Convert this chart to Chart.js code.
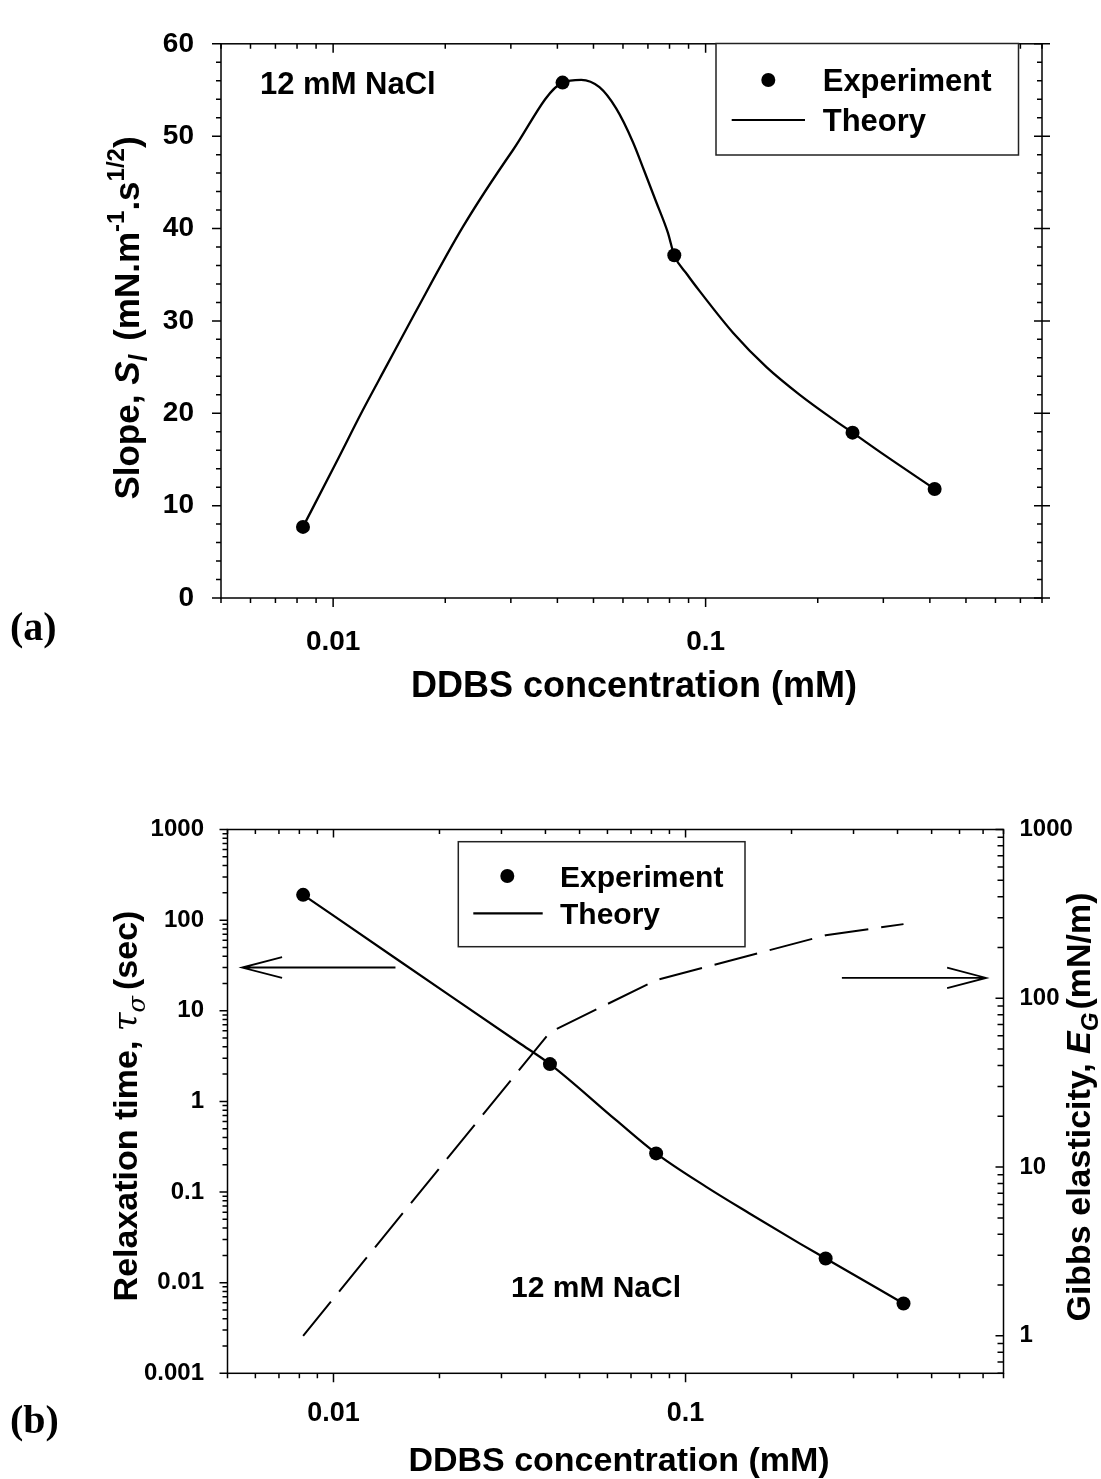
<!DOCTYPE html>
<html>
<head>
<meta charset="utf-8">
<script src="https://cdn.jsdelivr.net/npm/chart.js@4/dist/chart.umd.min.js"></script>
<style>
  html, body { margin: 0; padding: 0; background: #fff; }
  #wrap { position: relative; width: 1101px; height: 1479px; }
  canvas { position: absolute; left: 0; }
  #cA { top: 0; }
  #cB { top: 740px; }
</style>
</head>
<body>
<div id="wrap">
  <canvas id="cA" width="1101" height="740"></canvas>
  <canvas id="cB" width="1101" height="739"></canvas>
</div>
<script>
// ---------- Panel (a): limiting slope vs DDBS concentration ----------
const concA = [0.0083, 0.0413, 0.0824, 0.248, 0.412];
const slopeExp = [7.7, 55.8, 37.1, 17.9, 11.8];
const slopeTheoryConc = [0.0083, 0.0102, 0.0120, 0.0139, 0.01656, 0.02232, 0.0304, 0.0413, 0.04634,
                         0.05188, 0.05752, 0.06374, 0.06849, 0.07364, 0.07911, 0.0824, 0.08933,
                         0.0965, 0.1186, 0.1457, 0.179, 0.2246, 0.248, 0.299, 0.412];
const slopeTheory = [7.7, 14.7, 20.3, 25.1, 30.8, 40.2, 48.5, 55.8, 56.1,
                     55.3, 53.0, 49.4, 46.2, 42.9, 39.6, 37.1, 35.0,
                     33.2, 28.7, 25.0, 22.0, 19.1, 17.9, 15.6, 11.8];

// ---------- Panel (b): relaxation time and Gibbs elasticity ----------
const concB = [0.0082, 0.0412, 0.0825, 0.25, 0.416];
const tauExp = [190, 2.58, 0.267, 0.0185, 0.0059];
const tauTheoryConc = [0.0082, 0.015, 0.0337, 0.0412, 0.0635, 0.0825, 0.1145, 0.152, 0.2113, 0.25, 0.416];
const tauTheory = [190, 38.0, 4.41, 2.58, 0.62, 0.267, 0.114, 0.058, 0.027, 0.0185, 0.0059];
const gibbsConc = [0.0082, 0.0412, 0.0825, 0.25, 0.416];
const gibbsTheory = [1.0, 63, 128, 236, 275];

// ---------- Tick labels ----------
const concTicks = [0.01, 0.1];
const concTickLabels = ['0.01', '0.1'];
const slopeTicks = [0, 10, 20, 30, 40, 50, 60];
const slopeTickLabels = ['0', '10', '20', '30', '40', '50', '60'];
const tauTicks = [0.001, 0.01, 0.1, 1, 10, 100, 1000];
const tauTickLabels = ['0.001', '0.01', '0.1', '1', '10', '100', '1000'];
const gibbsTicks = [1, 10, 100, 1000];
const gibbsTickLabels = ['1', '10', '100', '1000'];

const SANS = "'Liberation Sans', Arial, Helvetica, sans-serif";
const SERIF = "'Liberation Serif', 'Times New Roman', serif";
const GREEK = "'DejaVu Serif', 'Liberation Serif', serif";
const INK = '#000';

const pts = (xs, ys) => xs.map((x, i) => ({ x: x, y: ys[i] }));

// minor tick positions 2..9 per decade on a log axis
function logMinors(min, max) {
  const out = [];
  for (let e = Math.floor(Math.log10(min)) - 1; e <= Math.ceil(Math.log10(max)); e++) {
    for (let m = 2; m <= 9; m++) {
      const v = m * Math.pow(10, e);
      if (v >= min * 0.9999 && v <= max * 1.0001) out.push(v);
    }
  }
  return out;
}
function linMinors(min, max, step, majorStep) {
  const out = [];
  for (let v = min; v <= max + 1e-9; v += step) {
    if (Math.abs(v / majorStep - Math.round(v / majorStep)) > 1e-6) out.push(v);
  }
  return out;
}

// short strokes perpendicular to an axis
function marks(ctx, pos, pixels, from, to, alongX) {
  ctx.beginPath();
  pixels.forEach(p => {
    if (alongX) { ctx.moveTo(p, pos + from); ctx.lineTo(p, pos + to); }
    else { ctx.moveTo(pos + from, p); ctx.lineTo(pos + to, p); }
  });
  ctx.stroke();
}

// text made of runs with their own font and baseline shift
function richText(ctx, x, y, runs, vertical) {
  ctx.save();
  ctx.translate(x, y);
  if (vertical) ctx.rotate(-Math.PI / 2);
  ctx.textAlign = 'left';
  ctx.textBaseline = 'alphabetic';
  ctx.fillStyle = INK;
  let total = 0;
  runs.forEach(r => { ctx.font = r.font; r.w = ctx.measureText(r.text).width + (r.gap || 0); total += r.w; });
  let cx = -total / 2;
  runs.forEach(r => { ctx.font = r.font; ctx.fillText(r.text, cx, r.dy || 0); cx += r.w; });
  ctx.restore();
}

function arrow(ctx, x0, y0, x1, y1, headLen, headHalf) {
  const dir = Math.sign(x1 - x0);
  ctx.beginPath();
  ctx.moveTo(x0, y0); ctx.lineTo(x1, y1);
  ctx.moveTo(x1 - dir * headLen, y1 - headHalf); ctx.lineTo(x1, y1);
  ctx.lineTo(x1 - dir * headLen, y1 + headHalf);
  ctx.stroke();
}

function legendBox(ctx, box, chart, font) {
  ctx.save();
  ctx.fillStyle = '#fff';
  ctx.fillRect(box.x, box.y, box.w, box.h);
  ctx.strokeStyle = '#222';
  ctx.lineWidth = 1.5;
  ctx.strokeRect(box.x, box.y, box.w, box.h);
  const ds = chart.data.datasets;
  ctx.fillStyle = INK;
  ctx.beginPath();
  ctx.arc(box.dotX, box.row1, 7, 0, Math.PI * 2);
  ctx.fill();
  ctx.strokeStyle = INK;
  ctx.lineWidth = 2.2;
  ctx.beginPath();
  ctx.moveTo(box.lineX0, box.row2); ctx.lineTo(box.lineX1, box.row2);
  ctx.stroke();
  ctx.font = font;
  ctx.textAlign = 'left';
  ctx.textBaseline = 'alphabetic';
  ctx.fillText(ds[0].label, box.textX, box.row1 + box.base);
  ctx.fillText(ds[1].label, box.textX, box.row2 + box.base);
  ctx.restore();
}

const tickFont = size => ({ family: SANS, size: size, weight: 'bold' });

// ---------- Decorations for panel (a) ----------
const decorA = {
  id: 'decorA',
  afterDraw(chart) {
    const { ctx, chartArea: a, scales: { x, y } } = chart;
    ctx.save();
    ctx.strokeStyle = INK;
    ctx.lineWidth = 1.5;
    ctx.strokeRect(a.left, a.top, a.right - a.left, a.bottom - a.top);

    const xMaj = concTicks.map(v => x.getPixelForValue(v));
    const xMin = logMinors(0.005, 0.8).map(v => x.getPixelForValue(v));
    marks(ctx, a.bottom, xMaj, 0, 9, true);
    marks(ctx, a.bottom, xMin, 0, 5, true);
    marks(ctx, a.top, xMaj, 0, 9, true);
    marks(ctx, a.top, xMin, 0, 5, true);

    const yMaj = slopeTicks.map(v => y.getPixelForValue(v));
    const yMin = linMinors(0, 60, 2, 10).map(v => y.getPixelForValue(v));
    marks(ctx, a.left, yMaj, -9, 0, false);
    marks(ctx, a.left, yMin, -5, 0, false);
    marks(ctx, a.right, yMaj, -8, 8, false);
    marks(ctx, a.right, yMin, -5, 0, false);
    ctx.restore();

    legendBox(ctx, { x: 716, y: 43.5, w: 302.5, h: 111.5, dotX: 768.3, row1: 80, row2: 120,
                     lineX0: 731.7, lineX1: 805, textX: 822.7, base: 11 },
              chart, 'bold 31px ' + SANS);

    ctx.save();
    ctx.fillStyle = INK;
    ctx.textAlign = 'left';
    ctx.textBaseline = 'alphabetic';
    ctx.font = 'bold 31px ' + SANS;
    ctx.fillText('12 mM NaCl', 260, 94);
    ctx.font = 'bold 36px ' + SANS;
    ctx.textAlign = 'center';
    ctx.fillText('DDBS concentration (mM)', 634, 697);
    ctx.font = 'bold 40px ' + SERIF;
    ctx.textAlign = 'left';
    ctx.fillText('(a)', 10, 640);
    ctx.restore();

    const big = 'bold 35px ' + SANS, small = 'bold 24px ' + SANS;
    richText(ctx, 139, 318, [
      { text: 'Slope, ', font: big },
      { text: 'S', font: 'italic bold 35px ' + SANS },
      { text: 'l', font: 'italic bold 25px ' + SANS, dy: 8, gap: 4 },
      { text: ' (mN.m', font: big },
      { text: '-1', font: small, dy: -15 },
      { text: '.s', font: big },
      { text: '1/2', font: small, dy: -15 },
      { text: ')', font: big }
    ], true);
  }
};

// ---------- Decorations for panel (b) ----------
const tauArrow = { from: 0.015, to: 0.0055, tau: 30 };
const gibbsArrow = { from: 0.278, to: 0.714, gibbs: 132 };

const decorB = {
  id: 'decorB',
  afterDraw(chart) {
    const { ctx, chartArea: a, scales: { x, y, y2 } } = chart;
    ctx.save();
    ctx.strokeStyle = INK;
    ctx.lineWidth = 1.5;
    ctx.strokeRect(a.left, a.top, a.right - a.left, a.bottom - a.top);

    const xMaj = concTicks.map(v => x.getPixelForValue(v));
    const xMin = logMinors(0.005, 0.8).map(v => x.getPixelForValue(v));
    marks(ctx, a.bottom, xMaj, 0, 9, true);
    marks(ctx, a.bottom, xMin, 0, 5, true);
    marks(ctx, a.top, xMaj, 0, 8, true);
    marks(ctx, a.top, xMin, 0, 4.5, true);

    const yMaj = tauTicks.map(v => y.getPixelForValue(v));
    const yMin = logMinors(0.001, 1000).map(v => y.getPixelForValue(v));
    marks(ctx, a.left, yMaj, -8, 0, false);
    marks(ctx, a.left, yMin, -5, 0, false);

    const rMaj = gibbsTicks.map(v => y2.getPixelForValue(v));
    const rMin = logMinors(0.6, 1000).map(v => y2.getPixelForValue(v));
    marks(ctx, a.right, rMaj, -8, 0, false);
    marks(ctx, a.right, rMin, -6, 0, false);

    // direction arrows pointing at the matching axis
    ctx.lineWidth = 1.8;
    const ty = y.getPixelForValue(tauArrow.tau);
    arrow(ctx, x.getPixelForValue(tauArrow.from), ty, x.getPixelForValue(tauArrow.to), ty, 40, 10.3);
    const gy = y2.getPixelForValue(gibbsArrow.gibbs);
    arrow(ctx, x.getPixelForValue(gibbsArrow.from), gy, x.getPixelForValue(gibbsArrow.to), gy, 39, 10.3);
    ctx.restore();

    legendBox(ctx, { x: 458.3, y: 101.7, w: 286.7, h: 105, dotX: 507.3, row1: 136, row2: 173.3,
                     lineX0: 473.3, lineX1: 542.7, textX: 560, base: 11 },
              chart, 'bold 30px ' + SANS);

    ctx.save();
    ctx.fillStyle = INK;
    ctx.textBaseline = 'alphabetic';
    ctx.textAlign = 'left';
    ctx.font = 'bold 30px ' + SANS;
    ctx.fillText('12 mM NaCl', 511, 556.7);
    ctx.font = 'bold 34px ' + SANS;
    ctx.textAlign = 'center';
    ctx.fillText('DDBS concentration (mM)', 619, 731);
    ctx.font = 'bold 40px ' + SERIF;
    ctx.textAlign = 'left';
    ctx.fillText('(b)', 10, 693);
    ctx.restore();

    const big = 'bold 34px ' + SANS;
    richText(ctx, 137, 366, [
      { text: 'Relaxation time, ', font: big },
      { text: 'τ', font: 'italic 34px ' + GREEK },
      { text: 'σ', font: 'italic 24px ' + GREEK, dy: 8, gap: 6 },
      { text: '(sec)', font: big }
    ], true);
    richText(ctx, 1090, 367, [
      { text: 'Gibbs elasticity, ', font: big },
      { text: 'E', font: 'italic bold 34px ' + SANS },
      { text: 'G', font: 'italic bold 24px ' + SANS, dy: 8, gap: 3 },
      { text: '(mN/m)', font: big }
    ], true);
  }
};

const noGrid = { display: false, drawTicks: false };
const noBorder = { display: false };

// ---------- Chart (a) ----------
new Chart(document.getElementById('cA'), {
  type: 'scatter',
  data: {
    datasets: [
      { label: 'Experiment', data: pts(concA, slopeExp), pointRadius: 7, pointHoverRadius: 7,
        backgroundColor: INK, borderColor: INK, pointBorderWidth: 0, showLine: false },
      { label: 'Theory', data: pts(slopeTheoryConc, slopeTheory), showLine: true, pointRadius: 0,
        borderColor: INK, borderWidth: 2.3, cubicInterpolationMode: 'monotone', fill: false }
    ]
  },
  options: {
    responsive: false, animation: false, devicePixelRatio: 1,
    layout: { padding: { top: 22.5, right: 59, bottom: 0, left: 0 }, autoPadding: false },
    plugins: { legend: { display: false }, tooltip: { enabled: false } },
    scales: {
      x: {
        type: 'logarithmic', position: 'bottom', min: 0.005, max: 0.8,
        grid: noGrid, border: noBorder,
        afterBuildTicks: s => { s.ticks = concTicks.map(v => ({ value: v })); },
        afterFit: s => { s.height = 142; },
        ticks: { autoSkip: false, maxRotation: 0, padding: 27, color: INK, font: tickFont(28),
                 callback: v => concTickLabels[concTicks.indexOf(v)] ?? '' }
      },
      y: {
        type: 'linear', position: 'left', min: 0, max: 60,
        grid: noGrid, border: noBorder,
        afterBuildTicks: s => { s.ticks = slopeTicks.map(v => ({ value: v })); },
        afterFit: s => { s.width = 221; },
        ticks: { autoSkip: false, padding: 27, color: INK, font: tickFont(28),
                 callback: v => slopeTickLabels[slopeTicks.indexOf(v)] ?? '' }
      }
    }
  },
  plugins: [decorA]
});

// ---------- Chart (b) ----------
new Chart(document.getElementById('cB'), {
  type: 'scatter',
  data: {
    datasets: [
      { label: 'Experiment', data: pts(concB, tauExp), yAxisID: 'y', pointRadius: 7, pointHoverRadius: 7,
        backgroundColor: INK, borderColor: INK, pointBorderWidth: 0, showLine: false },
      { label: 'Theory', data: pts(tauTheoryConc, tauTheory), yAxisID: 'y', showLine: true, pointRadius: 0,
        borderColor: INK, borderWidth: 2.2, cubicInterpolationMode: 'monotone', fill: false },
      { label: 'Gibbs elasticity', data: pts(gibbsConc, gibbsTheory), yAxisID: 'y2', showLine: true,
        pointRadius: 0, borderColor: INK, borderWidth: 2, borderDash: [44, 13], tension: 0, fill: false }
    ]
  },
  options: {
    responsive: false, animation: false, devicePixelRatio: 1,
    layout: { padding: { top: 89.5, right: 0, bottom: 0, left: 0 }, autoPadding: false },
    plugins: { legend: { display: false }, tooltip: { enabled: false } },
    scales: {
      x: {
        type: 'logarithmic', position: 'bottom', min: 0.005, max: 0.8,
        grid: noGrid, border: noBorder,
        afterBuildTicks: s => { s.ticks = concTicks.map(v => ({ value: v })); },
        afterFit: s => { s.height = 105.7; },
        ticks: { autoSkip: false, maxRotation: 0, padding: 24, color: INK, font: tickFont(27),
                 callback: v => concTickLabels[concTicks.indexOf(v)] ?? '' }
      },
      y: {
        type: 'logarithmic', position: 'left', min: 0.001, max: 1000,
        grid: noGrid, border: noBorder,
        afterBuildTicks: s => { s.ticks = tauTicks.map(v => ({ value: v })); },
        afterFit: s => { s.width = 227.5; },
        ticks: { autoSkip: false, padding: 23.5, color: INK, font: tickFont(24),
                 callback: v => tauTickLabels[tauTicks.indexOf(v)] ?? '' }
      },
      y2: {
        type: 'logarithmic', position: 'right', min: 0.6, max: 1000,
        grid: noGrid, border: noBorder,
        afterBuildTicks: s => { s.ticks = gibbsTicks.map(v => ({ value: v })); },
        afterFit: s => { s.width = 97.5; },
        ticks: { autoSkip: false, padding: 16, color: INK, font: tickFont(24),
                 callback: v => gibbsTickLabels[gibbsTicks.indexOf(v)] ?? '' }
      }
    }
  },
  plugins: [decorB]
});
</script>
</body>
</html>
